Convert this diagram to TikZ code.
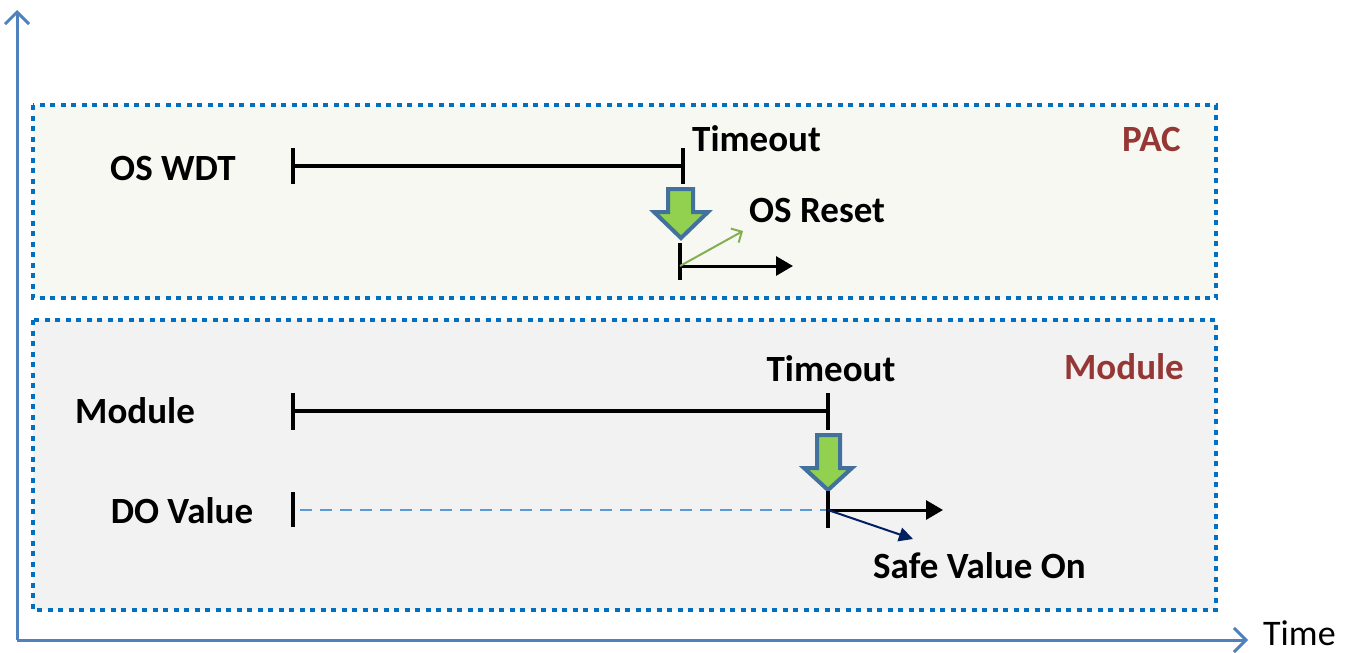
\documentclass[tikz,border=0pt]{standalone}
\usepackage{fontspec}
\setmainfont{Carlito}
\usetikzlibrary{arrows.meta}
\definecolor{axisblue}{HTML}{4F81BD}
\definecolor{dotblue}{HTML}{0070C0}
\definecolor{pacfill}{HTML}{F8F8F3}
\definecolor{modfill}{HTML}{F2F2F2}
\definecolor{darkred}{HTML}{953735}
\definecolor{lgreen}{HTML}{92D050}
\definecolor{arrowedge}{HTML}{41719C}
\definecolor{navy}{HTML}{002060}
\definecolor{dashblue}{HTML}{5B9BD5}
\begin{document}
\begin{tikzpicture}[x=1pt,y=-1pt,
  lbl/.style={font=\fontsize{37}{41}\selectfont\bfseries, inner sep=0pt},
  boxdot/.style={draw=dotblue, line width=4pt, dash pattern=on 5pt off 5.5pt},
  tl/.style={line width=4pt, black},
  bigarrow/.style={draw=arrowedge, line width=4pt, fill=lgreen, line join=miter}]
\useasboundingbox (0,0) rectangle (1357,653);
% boxes
\filldraw[boxdot, fill=pacfill] (33,105) rectangle (1216,298);
\filldraw[boxdot, fill=modfill] (33,320) rectangle (1216,610);
% axes
\coordinate (orig) at (17,640);
\coordinate (ytop) at (17,10);
\coordinate (xend) at (1248,640);
\draw[axisblue, line width=3pt, -{Straight Barb[length=12pt, width=24pt, line width=3pt]}] (orig) -- (ytop);
\draw[axisblue, line width=3pt, -{Straight Barb[length=12pt, width=24pt, line width=3pt]}] (orig) -- (xend);
\node[font=\fontsize{36}{40}\selectfont, anchor=base west, inner sep=0pt] (time) at (1263,645) {Time};
% PAC
\node[lbl] (oswdt) at (173,168) {OS WDT};
\node[lbl, text=darkred, anchor=east] (pac) at (1181,139) {PAC};
\coordinate (p1) at (293,166);
\coordinate (p2) at (683,166);
\draw[tl] (293,148) -- (293,184);
\draw[tl] (683,148) -- (683,184);
\draw[tl] (p1) -- (p2);
\node[lbl, anchor=west] (to1) at (692,139) {Timeout};
\draw[bigarrow] (668,189) -- (693,189) -- (693,212) -- (708,212) -- (681,238) -- (654,212) -- (668,212) -- cycle;
\coordinate (r0) at (680,266);
\coordinate (r1) at (793,266);
\coordinate (g1) at (743,231);
\draw[tl] (680,243) -- (680,280);
\draw[line width=3pt, -{Triangle[length=17pt, width=19pt]}] (r0) -- (r1);
\draw[lgreen!80!black!90, line width=2pt, -{Straight Barb[length=8pt, width=16pt, line width=2pt]}] (r0) -- (g1);
\node[lbl, anchor=west] (osreset) at (749,211) {OS Reset};
% Module
\node[lbl] (modlbl) at (135,411) {Module};
\node[lbl, text=darkred, anchor=east] (modred) at (1184,367) {Module};
\node[lbl] (to2) at (831,369) {Timeout};
\coordinate (m1) at (293,411);
\coordinate (m2) at (828,411);
\draw[tl] (293,393) -- (293,430);
\draw[tl] (828,393) -- (828,430);
\draw[tl] (m1) -- (m2);
\draw[bigarrow] (817,435) -- (840,435) -- (840,468) -- (852,468) -- (828,490) -- (804,468) -- (817,468) -- cycle;
\node[lbl] (dov) at (182,511) {DO Value};
\draw[tl] (293,492) -- (293,527);
\coordinate (d0) at (300,510);
\coordinate (d1) at (828,510);
\draw[dashblue, line width=2pt, dash pattern=on 12pt off 8pt] (d0) -- (d1);
\draw[tl] (828,491) -- (828,528);
\coordinate (e1) at (943,510);
\coordinate (s1) at (913,539);
\draw[line width=3pt, -{Triangle[length=17pt, width=19pt]}] (d1) -- (e1);
\draw[navy, line width=2pt, -{Triangle[length=14pt, width=14pt]}] (d1) -- (s1);
\node[lbl, anchor=west] (safe) at (873,566) {Safe Value On};
\end{tikzpicture}
\end{document}
